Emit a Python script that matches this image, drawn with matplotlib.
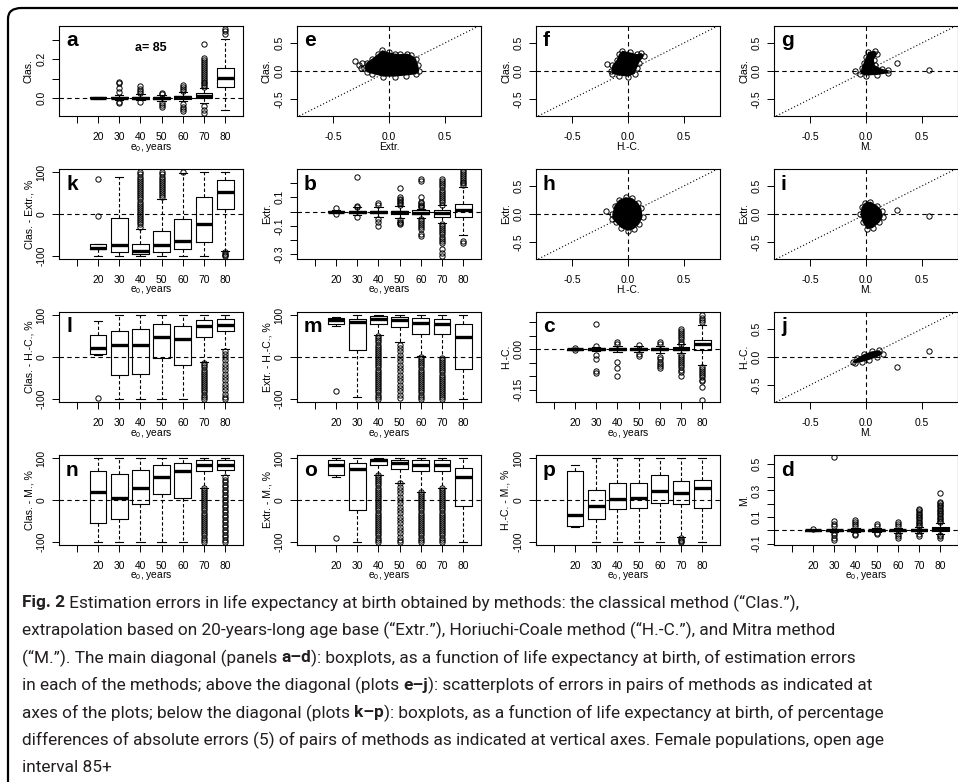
import matplotlib.pyplot as plt
from matplotlib.patches import FancyBboxPatch

plt.rcParams['font.family'] = ['Liberation Sans', 'DejaVu Sans']
plt.rcParams['mathtext.fontset'] = 'custom'
plt.rcParams['mathtext.rm'] = 'Liberation Sans'
plt.rcParams['mathtext.it'] = 'Liberation Sans:italic'
plt.rcParams['mathtext.bf'] = 'Liberation Sans:bold'

W, H = 958, 782

# x axis of the boxplots (first slot is empty)
e0_labels = ['', '20', '30', '40', '50', '60', '70', '80']
box_pos = [2, 3, 4, 5, 6, 7, 8]

# ---- a: Clas. errors
a_med = [0.0, 0.0, 0.0, 0.0, 0.003, 0.012, 0.104]
a_q1 = [-0.002, -0.003, -0.004, -0.005, -0.004, 0.0, 0.057]
a_q3 = [0.002, 0.004, 0.005, 0.004, 0.009, 0.025, 0.156]
a_lo = [-0.004, -0.01, -0.012, -0.015, -0.018, -0.027, -0.062]
a_hi = [0.004, 0.015, 0.018, 0.014, 0.028, 0.05, 0.307]
a_out = [[],
         [0.085, 0.075, 0.05, 0.03, -0.02, -0.025],
         [0.06, 0.045, 0.035, 0.025, -0.02],
         [0.025, 0.02, -0.025, -0.035, -0.045],
         [0.065, 0.055, 0.045, 0.035, -0.03, -0.045, -0.06, -0.07],
         [0.055, 0.065, 0.075, 0.085, 0.095, 0.105, 0.115, 0.125, 0.135, 0.145,
          0.155, 0.165, 0.175, 0.185, 0.195, 0.205, 0.28, -0.04, -0.065, -0.08],
         [0.33, 0.345, 0.36]]

# ---- b: Extr. errors
b_med = [0.0, 0.0, -0.004, -0.004, -0.008, -0.012, 0.012]
b_q1 = [-0.004, -0.007, -0.012, -0.015, -0.02, -0.035, -0.035]
b_q3 = [0.004, 0.007, 0.007, 0.008, 0.01, 0.012, 0.052]
b_lo = [-0.01, -0.025, -0.04, -0.045, -0.045, -0.082, -0.165]
b_hi = [0.012, 0.03, 0.035, 0.04, 0.02, 0.047, 0.17]
b_out = [[0.028, -0.02],
         [0.247, 0.04, 0.035, -0.04],
         [0.05, 0.06, -0.05, -0.07, -0.1],
         [0.165, 0.105, 0.09, 0.08, 0.07, 0.06, 0.05, -0.06, -0.07, -0.08, -0.09],
         [0.23, 0.215, 0.1, 0.07, 0.06, 0.05, 0.04, 0.03, -0.05, -0.065, -0.08,
          -0.095, -0.11, -0.125, -0.155, -0.17],
         [0.05, 0.065, 0.08, 0.095, 0.11, 0.125, 0.14, 0.155, 0.17, 0.185, 0.2,
          0.215, 0.23, -0.085, -0.1, -0.115, -0.13, -0.145, -0.16, -0.175,
          -0.19, -0.205, -0.22, -0.265, -0.29, -0.31],
         [0.19, 0.2, 0.21, 0.22, 0.235, 0.25, 0.265, 0.28, 0.295, -0.205, -0.22]]

# ---- c: H.-C. errors
c_med = [0.0, 0.0, 0.0, 0.0, 0.0, 0.0, 0.019]
c_q1 = [-0.002, -0.003, -0.003, -0.004, -0.004, -0.004, -0.004]
c_q3 = [0.002, 0.003, 0.003, 0.004, 0.004, 0.006, 0.034]
c_lo = [-0.004, -0.008, -0.01, -0.012, -0.015, -0.015, -0.059]
c_hi = [0.004, 0.008, 0.01, 0.012, 0.013, 0.018, 0.09]
c_out = [[0.004, -0.004],
         [0.094, 0.012, -0.022, -0.035, -0.08, -0.087],
         [0.026, 0.018, -0.046, -0.069, -0.1],
         [0.016, -0.018, -0.024],
         [0.02, 0.028, -0.03, -0.038, -0.046, -0.054, -0.062, -0.07],
         [0.02, 0.028, 0.036, 0.044, 0.052, 0.06, 0.068, 0.076, -0.02, -0.028,
          -0.036, -0.044, -0.052, -0.06, -0.068, -0.076, -0.084, -0.1],
         [0.1, 0.108, 0.116, 0.125, -0.065, -0.073, -0.081, -0.089, -0.097,
          -0.105, -0.113, -0.12, -0.141, -0.188]]

# ---- d: M. errors
d_med = [0.0, 0.0, 0.0, 0.0, 0.0, 0.002, 0.012]
d_q1 = [-0.002, -0.004, -0.004, -0.004, -0.006, -0.005, -0.003]
d_q3 = [0.003, 0.004, 0.005, 0.005, 0.006, 0.008, 0.025]
d_lo = [-0.004, -0.012, -0.012, -0.013, -0.02, -0.02, -0.03]
d_hi = [0.006, 0.014, 0.016, 0.016, 0.02, 0.025, 0.055]
d_out = [[0.01],
         [0.55, 0.07, 0.045, 0.03, -0.02, -0.035, -0.06, -0.075],
         [0.08, 0.065, 0.05, 0.035, -0.025, -0.035],
         [0.05, 0.03, -0.02, -0.028],
         [0.06, 0.048, 0.036, -0.03, -0.042, -0.058],
         [0.03, 0.042, 0.054, 0.066, 0.078, 0.09, 0.102, 0.114, 0.126, 0.138,
          0.15, 0.158, -0.03, -0.042],
         [0.06, 0.072, 0.084, 0.096, 0.108, 0.12, 0.132, 0.144, 0.156, 0.168,
          0.18, 0.192, 0.205, 0.215, 0.278, -0.035, -0.045, -0.055]]

# ---- k: Clas. - Extr., %
k_med = [-82, -75, -88, -75, -65, -23, 53]
k_q1 = [-85, -91, -95, -90, -85, -67, 13]
k_q3 = [-73, -9, -72, -40, -13, 40, 82]
k_lo = [-100, -100, -100, -100, -100, -100, -88]
k_hi = [-72, 90, -36, 37, 98, 100, 100]
k_out = [[85, -4], [],
         [-30, -25, -20, -15, -10, -5, 0, 5, 10, 15, 20, 25, 30, 35, 40, 45, 50,
          55, 60, 65, 70, 75, 80, 85, 90, 95, 100],
         [40, 45, 50, 55, 60, 65, 70, 75, 80, 85, 90, 95, 100],
         [100], [], [-92, -95, -98, -100]]

# ---- l: Clas. - H.-C., %
l_med = [22, 28, 28, 48, 44, 75, 78]
l_q1 = [7, -42, -40, -3, -20, 48, 62]
l_q3 = [52, 62, 68, 80, 74, 90, 91]
l_lo = [5, -100, -100, -100, -100, -12, 20]
l_hi = [87, 100, 100, 100, 100, 100, 100]
l_out = [[-98], [], [], [], [],
         [-15, -20, -25, -30, -35, -40, -45, -50, -55, -60, -65, -70, -75, -80,
          -85, -90, -95, -100],
         [15, 8, 0, -8, -16, -24, -32, -40, -48, -56, -64, -72, -80, -88, -96, -100]]

# ---- m: Extr. - H.-C., %
m_med = [88, 84, 92, 88, 82, 80, 48]
m_q1 = [80, 18, 80, 72, 56, 55, -28]
m_q3 = [93, 92, 98, 96, 93, 92, 80]
m_lo = [75, -95, 54, 35, 3, 0, -100]
m_hi = [97, 100, 100, 100, 100, 100, 100]
m_out = [[-82], [],
         [50, 45, 40, 35, 30, 25, 20, 15, 10, 5, 0, -5, -10, -15, -20, -25, -30,
          -35, -40, -45, -50, -55, -60, -65, -70, -75, -80, -85, -90, -95, -100],
         [30, 22, 14, 6, -2, -10, -18, -26, -34, -42, -50, -58, -66, -74, -82,
          -90, -98],
         [0, -5, -10, -15, -20, -25, -30, -35, -40, -45, -50, -55, -60, -65, -70,
          -75, -80, -85, -90, -95, -100],
         [-2, -7, -12, -17, -22, -27, -32, -37, -42, -47, -52, -57, -62, -67, -72,
          -77, -82, -87, -92, -97, -100],
         []]

# ---- n: Clas. - M., %
n_med = [20, 5, 30, 55, 70, 85, 85]
n_q1 = [-55, -45, -10, 15, 5, 70, 72]
n_q3 = [70, 62, 72, 85, 88, 95, 95]
n_lo = [-100, -100, -100, -100, -100, 30, 60]
n_hi = [100, 100, 100, 100, 100, 100, 100]
n_out = [[], [], [], [], [],
         [30, 25, 20, 15, 10, 5, 0, -5, -10, -15, -20, -25, -30, -35, -40, -45,
          -50, -55, -60, -65, -70, -75, -80, -85, -90, -95, -100],
         [55, 49, 43, 37, 31, 25, 19, 13, 7, 1, -5, -11, -17, -23, -29, -35, -41,
          -47, -53, -59, -65, -71, -77, -83, -89, -95, -100]]

# ---- o: Extr. - M., %
o_med = [85, 75, 95, 88, 85, 85, 55]
o_q1 = [60, -25, 85, 75, 70, 70, -15]
o_q3 = [95, 90, 99, 97, 95, 95, 78]
o_lo = [55, -100, 60, 40, 20, 30, -100]
o_hi = [100, 100, 100, 100, 100, 100, 100]
o_out = [[-90], [],
         [60, 55, 50, 45, 40, 35, 30, 25, 20, 15, 10, 5, 0, -5, -10, -15, -20,
          -25, -30, -35, -40, -45, -50, -55, -60, -65, -70, -75, -80, -85, -90,
          -95, -100],
         [40, 32, 24, 16, 8, 0, -8, -16, -24, -32, -40, -48, -56, -64, -72, -80,
          -88, -96, -100],
         [20, 15, 10, 5, 0, -5, -10, -15, -20, -25, -30, -35, -40, -45, -50, -55,
          -60, -65, -70, -75, -80, -85, -90, -95, -100],
         [30, 25, 20, 15, 10, 5, 0, -5, -10, -15, -20, -25, -30, -35, -40, -45,
          -50, -55, -60, -65, -70, -75, -80, -85, -90, -95, -100],
         []]

# ---- p: H.-C. - M., %
p_med = [-35, -15, 2, 4, 22, 18, 30]
p_q1 = [-62, -46, -22, -18, -7, -9, -18]
p_q3 = [69, 24, 40, 40, 60, 45, 48]
p_lo = [-65, -100, -100, -100, -100, -88, -100]
p_hi = [85, 100, 100, 100, 100, 100, 100]
p_out = [[], [], [], [], [], [-92, -95, -98, -100], []]

# ---- scatter clouds: outline of the dense core + isolated points
e_hx = [-0.22, -0.2, -0.15, -0.1, -0.06, 0.0, 0.05, 0.1, 0.16, 0.2, 0.24, 0.26,
        0.27, 0.24, 0.15, 0.05, -0.05, -0.15, -0.2]
e_hy = [0.05, 0.15, 0.22, 0.3, 0.37, 0.33, 0.31, 0.3, 0.31, 0.28, 0.22, 0.1, 0.0,
        -0.06, -0.08, -0.1, -0.1, -0.05, -0.02]
e_ox = [-0.3, -0.27, -0.24, -0.25]
e_oy = [0.17, 0.1, 0.14, 0.06]

f_hx = [-0.15, -0.14, -0.1, -0.08, -0.05, 0.02, 0.08, 0.12, 0.14, 0.1, 0.08,
        0.06, 0.0, -0.08, -0.14]
f_hy = [0.0, 0.1, 0.2, 0.3, 0.36, 0.33, 0.3, 0.32, 0.26, 0.15, 0.05, -0.05,
        -0.1, -0.08, -0.05]
f_ox = [-0.19]
f_oy = [0.13]

g_hx = [-0.05, -0.04, -0.02, 0.0, 0.02, 0.08, 0.1, 0.07, 0.08, 0.14, 0.2, 0.2,
        0.1, 0.0]
g_hy = [-0.05, 0.05, 0.15, 0.25, 0.34, 0.36, 0.3, 0.2, 0.1, 0.04, 0.01, -0.04,
        -0.07, -0.08]
g_ox = [-0.1, 0.28, 0.56]
g_oy = [0.0, 0.14, 0.02]

h_hx = [-0.14, -0.12, -0.08, -0.02, 0.04, 0.09, 0.12, 0.13, 0.1, 0.05, 0.0,
        -0.06, -0.11, -0.14]
h_hy = [0.0, 0.15, 0.25, 0.3, 0.28, 0.2, 0.1, -0.05, -0.18, -0.27, -0.3, -0.25,
        -0.15, -0.08]
h_ox = [-0.2]
h_oy = [0.05]

i_hx = [-0.05, -0.04, -0.01, 0.04, 0.1, 0.14, 0.15, 0.12, 0.06, 0.01, -0.03]
i_hy = [0.0, 0.12, 0.2, 0.22, 0.15, 0.06, -0.05, -0.15, -0.25, -0.27, -0.15]
i_ox = [0.28, 0.56]
i_oy = [0.07, -0.04]

j_hx = [-0.12, -0.08, -0.02, 0.05, 0.12, 0.15, 0.1, 0.03, -0.04, -0.1]
j_hy = [-0.08, -0.02, 0.05, 0.1, 0.12, 0.06, 0.0, -0.05, -0.09, -0.11]
j_ox = [0.28, 0.56]
j_oy = [-0.18, 0.1]

# ---- caption
cap_lines = [
    [("Fig. 2", True), (" Estimation errors in life expectancy at birth obtained by methods: "
                        "the classical method (\u201cClas.\u201d),", False)],
    [("extrapolation based on 20-years-long age base (\u201cExtr.\u201d), Horiuchi-Coale "
      "method (\u201cH.-C.\u201d), and Mitra method", False)],
    [("(\u201cM.\u201d). The main diagonal (panels ", False), ("a\u2013d", True),
     ("): boxplots, as a function of life expectancy at birth, of estimation errors", False)],
    [("in each of the methods; above the diagonal (plots ", False), ("e\u2013j", True),
     ("): scatterplots of errors in pairs of methods as indicated at", False)],
    [("axes of the plots; below the diagonal (plots ", False), ("k\u2013p", True),
     ("): boxplots, as a function of life expectancy at birth, of percentage", False)],
    [("differences of absolute errors (5) of pairs of methods as indicated at vertical "
      "axes. Female populations, open age", False)],
    [("interval 85+", False)],
]
# right end (px) of each caption line in the source, used to size the font
cap_right = [898, 889, 910, 878, 902, 895, 120]

fig = plt.figure(figsize=(W / 100, H / 100), dpi=100)

col_x = [59, 297, 536, 774]
row_y = [26, 169, 312, 455]
AW, AH = 184, 90

LW = 0.8
DASH = (0, (4, 3))
FLIER = dict(marker='o', markersize=3.8, markerfacecolor='none',
             markeredgecolor='black', markeredgewidth=0.7, linestyle='none')


def make_ax(row, col):
    x0, y0 = col_x[col], row_y[row]
    ax = fig.add_axes([x0 / W, 1 - (y0 + AH) / H, AW / W, AH / H])
    for s in ax.spines.values():
        s.set_linewidth(LW)
    ax.tick_params(direction='out', length=5, width=0.7, labelsize=7.4)
    ax.tick_params(axis='x', pad=6.5)
    ax.tick_params(axis='y', pad=4, labelrotation=90)
    return ax


def finish(ax, xlabel, ylabel, letter):
    for t in ax.get_yticklabels():
        t.set_va('center')
    ax.set_xlabel(xlabel, fontsize=7.4, va='center')
    ax.xaxis.set_label_coords(0.5, -31 / AH)
    ax.set_ylabel(ylabel, fontsize=7.6, va='center')
    ax.yaxis.set_label_coords(-30 / AW, 0.5)
    ax.text(7 / AW, 1 - 20.5 / AH, letter, transform=ax.transAxes,
            fontsize=15, fontweight='bold', ha='left', va='baseline')


def box_panel(row, col, med, q1, q3, lo, hi, out, ylim, yticks, ylabs, ylabel, letter):
    ax = make_ax(row, col)
    stats = [dict(med=m, q1=a, q3=b, whislo=l, whishi=h, fliers=f)
             for m, a, b, l, h, f in zip(med, q1, q3, lo, hi, out)]
    ax.axhline(0, color='black', lw=LW, ls=DASH, zorder=0.5)
    ax.bxp(stats, positions=box_pos, widths=0.8, capwidths=0.4, manage_ticks=False,
           boxprops=dict(color='black', linewidth=LW),
           medianprops=dict(color='black', linewidth=2.4, solid_capstyle='butt'),
           whiskerprops=dict(color='black', linewidth=LW, linestyle=(0, (3, 2))),
           capprops=dict(color='black', linewidth=LW),
           flierprops=FLIER)
    ax.set_xlim(0.16, 8.84)
    ax.set_xticks(range(1, 9))
    ax.set_xticklabels(e0_labels)
    ax.set_ylim(*ylim)
    ax.set_yticks(yticks)
    ax.set_yticklabels(ylabs)
    finish(ax, r'e$_{0}$, years', ylabel, letter)
    return ax


def scat_panel(row, col, hx, hy, ox, oy, xlabel, ylabel, letter):
    ax = make_ax(row, col)
    ax.axhline(0, color='black', lw=LW, ls=DASH, zorder=0.5)
    ax.axvline(0, color='black', lw=LW, ls=DASH, zorder=0.5)
    ax.axline((0, 0), (1, 1), color='black', lw=LW, ls=(0, (1, 2)), zorder=0.5)
    ax.fill(hx, hy, color='black', lw=0)
    ax.plot(hx, hy, **FLIER)
    ax.plot(ox, oy, **FLIER)
    ax.set_xlim(-0.82, 0.82)
    ax.set_ylim(-0.8, 0.8)
    ax.set_xticks([-0.5, 0, 0.5])
    ax.set_xticklabels(['-0.5', '0.0', '0.5'])
    ax.set_yticks([-0.5, 0, 0.5])
    ax.set_yticklabels(['-0.5', '0.0', '0.5'])
    finish(ax, xlabel, ylabel, letter)
    return ax


pct_ylim = (-108, 108)
pct_ticks = [-100, 0, 100]
pct_labs = ['-100', '0', '100']

ax_a = box_panel(0, 0, a_med, a_q1, a_q3, a_lo, a_hi, a_out, (-0.094, 0.373),
                 [0, 0.1, 0.2, 0.3], ['0.0', '', '0.2', ''], 'Clas.', 'a')
ax_a.text(0.5, 1 - 22 / AH, 'a= 85', transform=ax_a.transAxes, fontsize=9,
          fontweight='bold', ha='center', va='center')
scat_panel(0, 1, e_hx, e_hy, e_ox, e_oy, 'Extr.', 'Clas.', 'e')
scat_panel(0, 2, f_hx, f_hy, f_ox, f_oy, 'H.-C.', 'Clas.', 'f')
scat_panel(0, 3, g_hx, g_hy, g_ox, g_oy, 'M.', 'Clas.', 'g')

box_panel(1, 0, k_med, k_q1, k_q3, k_lo, k_hi, k_out, pct_ylim, pct_ticks, pct_labs,
          'Clas. - Extr., %', 'k')
box_panel(1, 1, b_med, b_q1, b_q3, b_lo, b_hi, b_out, (-0.333, 0.30),
          [-0.3, -0.2, -0.1, 0, 0.1, 0.2], ['-0.3', '', '-0.1', '', '0.1', ''], 'Extr.', 'b')
scat_panel(1, 2, h_hx, h_hy, h_ox, h_oy, 'H.-C.', 'Extr.', 'h')
scat_panel(1, 3, i_hx, i_hy, i_ox, i_oy, 'M.', 'Extr.', 'i')

box_panel(2, 0, l_med, l_q1, l_q3, l_lo, l_hi, l_out, pct_ylim, pct_ticks, pct_labs,
          'Clas. - H.-C., %', 'l')
box_panel(2, 1, m_med, m_q1, m_q3, m_lo, m_hi, m_out, pct_ylim, pct_ticks, pct_labs,
          'Extr. - H.-C., %', 'm')
box_panel(2, 2, c_med, c_q1, c_q3, c_lo, c_hi, c_out, (-0.196, 0.1375),
          [-0.15, -0.1, -0.05, 0, 0.05, 0.1], ['-0.15', '', '', '0.00', '', ''], 'H.-C.', 'c')
scat_panel(2, 3, j_hx, j_hy, j_ox, j_oy, 'M.', 'H.-C.', 'j')

box_panel(3, 0, n_med, n_q1, n_q3, n_lo, n_hi, n_out, pct_ylim, pct_ticks, pct_labs,
          'Clas. - M., %', 'n')
box_panel(3, 1, o_med, o_q1, o_q3, o_lo, o_hi, o_out, pct_ylim, pct_ticks, pct_labs,
          'Extr. - M., %', 'o')
box_panel(3, 2, p_med, p_q1, p_q3, p_lo, p_hi, p_out, pct_ylim, pct_ticks, pct_labs,
          'H.-C. - M., %', 'p')
box_panel(3, 3, d_med, d_q1, d_q3, d_lo, d_hi, d_out, (-0.11, 0.567),
          [-0.1, 0, 0.1, 0.2, 0.3, 0.4, 0.5], ['-0.1', '', '0.1', '', '0.3', '', '0.5'],
          'M.', 'd')

# frame around the figure (right and bottom run off the page)
fig.patches.append(FancyBboxPatch((8 / W, -20 / H), 980 / W, (H - 8 + 20) / H,
                                  boxstyle='round,pad=0,rounding_size=0.014',
                                  transform=fig.transFigure, fill=False,
                                  edgecolor='black', linewidth=1.6))

# caption, drawn piece by piece so that bold parts can sit inline
renderer = fig.canvas.get_renderer()
CAP_FONT = ['Roboto', 'DejaVu Sans']
CAP_X = 22


def line_width(parts, fs):
    total = 0
    for s, bold in parts:
        t = fig.text(0, 0, s, fontsize=fs, family=CAP_FONT,
                     fontweight='bold' if bold else 'normal')
        total += t.get_window_extent(renderer).width
        t.remove()
    return total


# one font size for all lines: the largest that keeps every line inside its source width
cap_fs = min(10 * (r - CAP_X) / line_width(p, 10) for p, r in zip(cap_lines, cap_right))
cap_y0, cap_dy = 603, 27.5
for i, parts in enumerate(cap_lines):
    x = CAP_X
    y = cap_y0 + i * cap_dy
    for s, bold in parts:
        t = fig.text(x / W, 1 - y / H, s, fontsize=cap_fs, family=CAP_FONT,
                     fontweight='bold' if bold else 'normal', color='#231f20',
                     ha='left', va='center')
        x += t.get_window_extent(renderer).width

fig.savefig('out.png', dpi=100)
